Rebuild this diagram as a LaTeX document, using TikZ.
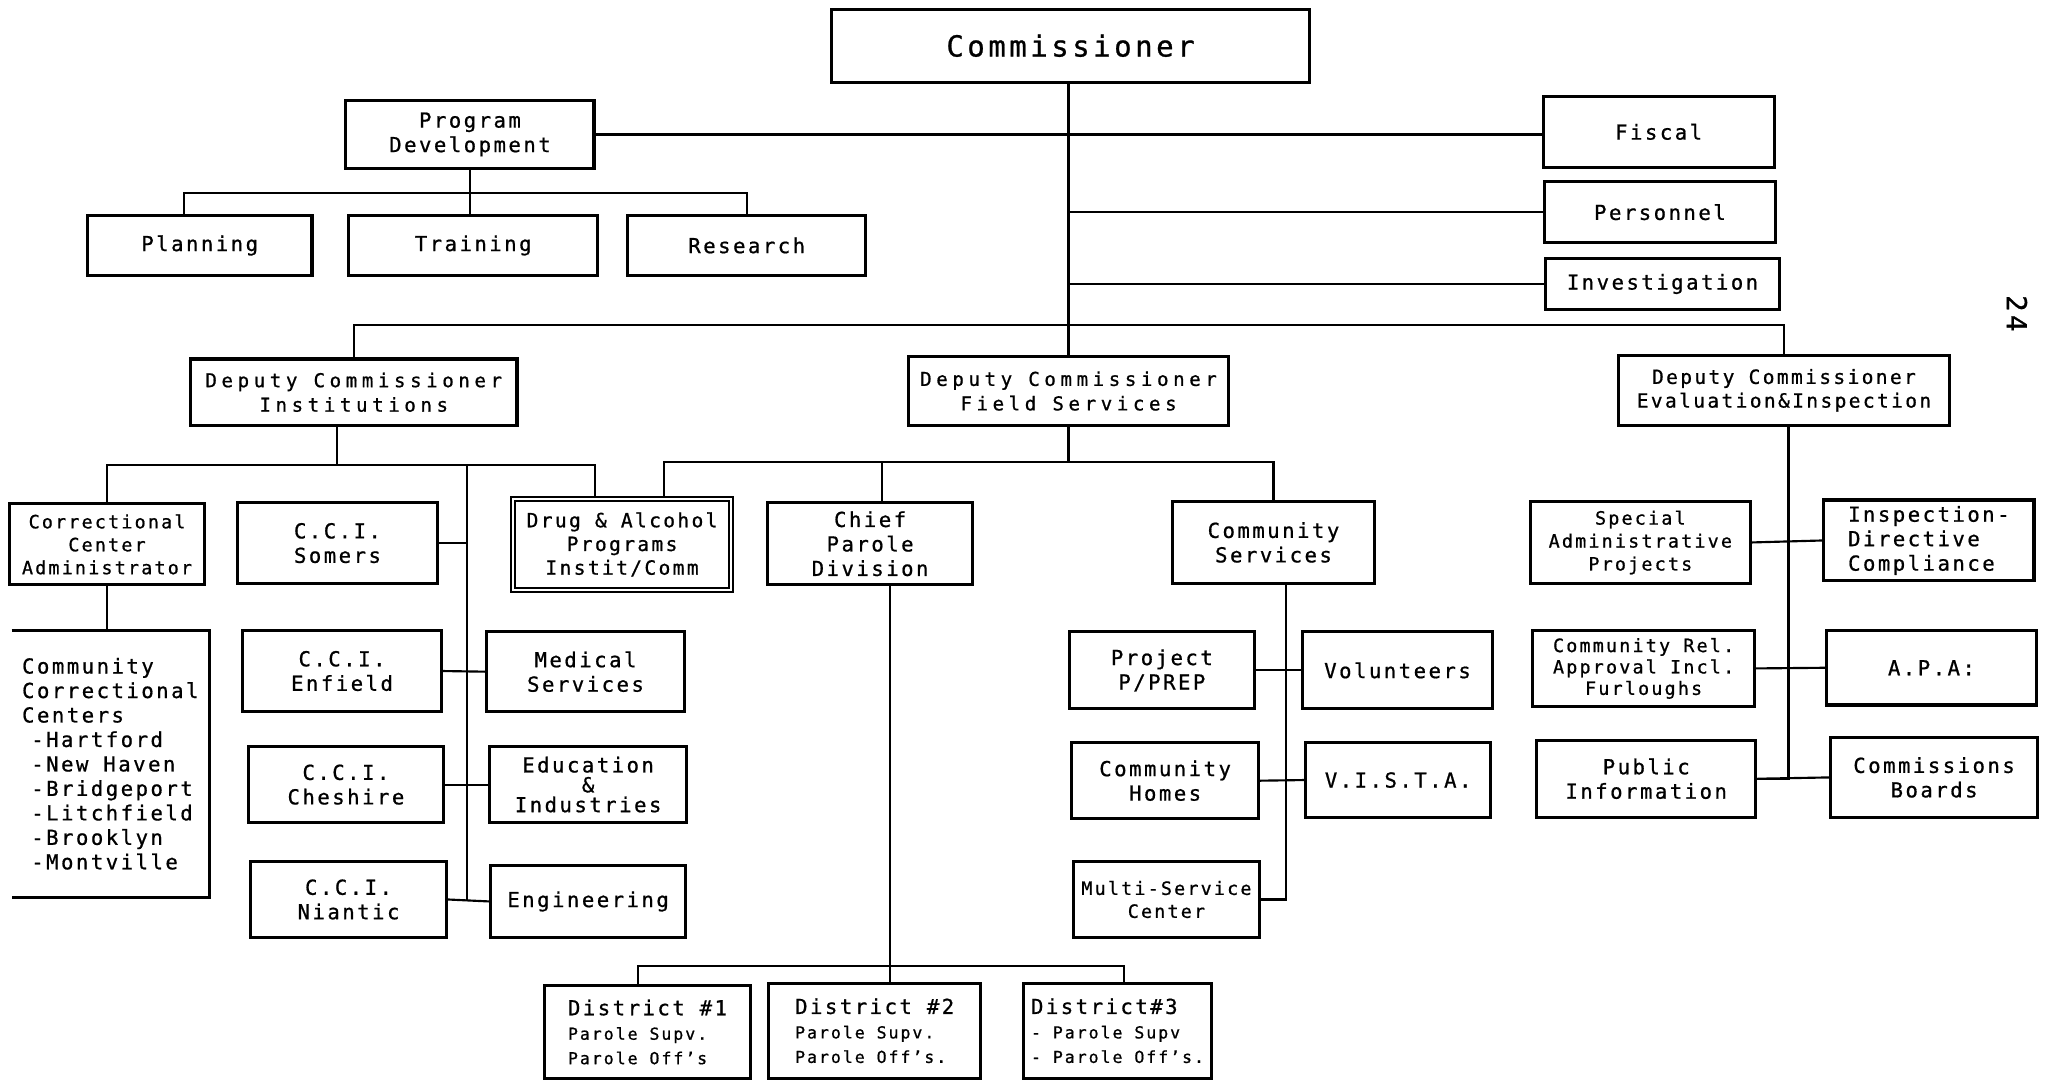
\documentclass[tikz,border=0pt]{standalone}
\usepackage{fontspec}
\setmainfont{DejaVu Sans Mono}[LetterSpace=12,FakeBold=0.8]
\newfontfamily\widefam{DejaVu Sans Mono}[LetterSpace=24,FakeBold=0.8]
\usetikzlibrary{calc}
\newcommand\orgfont{\fontsize{13.5}{16}\selectfont}
\newcommand\orgmid{\fontsize{12.8}{15.5}\selectfont}
\newcommand\orgsmall{\fontsize{12}{15}\selectfont}
\newcommand\orgbig{\fontsize{19}{22}\selectfont}
\newcommand\orgdist{\fontsize{10.8}{17}\selectfont}
\newcommand\orgwide{\widefam\fontsize{12.5}{16}\selectfont}
% \bx[options]{name}{x1}{y1}{x2}{y2}{text}
\newcommand\bx[7][]{\node[box,minimum width={(#5-#3)*0.03cm},minimum height={(#6-#4)*0.03cm},#1] (#2) at ({(#3+#5)/2},{(#4+#6)/2}) {#7};}
\begin{document}
\begin{tikzpicture}[x=0.03cm,y=-0.03cm,
  box/.style={draw, line width=2pt, inner sep=0pt, align=center, font=\orgfont},
  ln/.style={line width=1.4pt}]
\fill[white] (0,0) rectangle (1568,828);
\useasboundingbox (0,0) rectangle (1568,828);

% top level
\bx[font=\orgbig]{comm}{637}{7}{1003}{63}{Commissioner}
\bx{pd}{265}{77}{455}{129}{Program\\Development}
\bx{fiscal}{1182}{74}{1359}{128}{Fiscal}
\bx{pers}{1183}{139}{1360}{186}{Personnel}
\bx{inv}{1184}{198}{1363}{237}{Investigation}
\bx{plan}{67}{165}{239}{211}{Planning}
\bx{train}{267}{165}{458}{211}{Training}
\bx{res}{481}{165}{663}{211}{Research}

% deputies
\bx[font=\orgwide]{dinst}{146}{275}{396}{326}{Deputy Commissioner\\Institutions}
\bx[font=\orgwide]{dfs}{696}{273}{941}{326}{Deputy Commissioner\\Field Services}
\bx[font=\orgmid]{deval}{1240}{272}{1493}{326}{Deputy Commissioner\\Evaluation\&Inspection}

% institutions
\bx[font=\orgsmall]{cadm}{7}{386}{157}{448}{Correctional\\Center\\Administrator}
\bx[draw=none, align=left]{ccc}{10}{484}{159}{686}{Community\\Correctional\\Centers\\\hspace*{6pt}-Hartford\\\hspace*{6pt}-New Haven\\\hspace*{6pt}-Bridgeport\\\hspace*{6pt}-Litchfield\\\hspace*{6pt}-Brooklyn\\\hspace*{6pt}-Montville}
\draw[line width=2pt] (ccc.north west) -- (ccc.north east) -- (ccc.south east) -- (ccc.south west);
\bx{somers}{182}{385}{335}{447}{C.C.I.\\Somers}
\bx[line width=1.4pt, double distance=1.3pt, font=\orgmid]{drug}{393}{382}{560}{452}{Drug \& Alcohol\\Programs\\Instit/Comm}
\bx{enfield}{186}{483}{338}{545}{C.C.I.\\Enfield}
\bx{med}{373}{484}{524}{545}{Medical\\Services}
\bx{cheshire}{190}{572}{340}{630}{C.C.I.\\Cheshire}
\bx[font=\fontsize{13.5}{13}\selectfont]{edu}{375}{572}{526}{630}{Education\\\&\\Industries}
\bx{niantic}{192}{660}{342}{718}{C.C.I.\\Niantic}
\bx{eng}{376}{663}{525}{718}{Engineering}

% field services
\bx{chief}{588}{385}{745}{448}{Chief\\Parole\\Division}
\bx{csvc}{898}{384}{1053}{447}{Community\\Services}
\bx{proj}{819}{484}{961}{543}{Project\\P/PREP}
\bx{vol}{998}{484}{1143}{543}{Volunteers}
\bx{chomes}{821}{569}{964}{627}{Community\\Homes}
\bx{vista}{1000}{569}{1142}{626}{V.I.S.T.A.}
\bx[font=\orgsmall]{multi}{822}{660}{965}{718}{Multi-Service\\Center}
\bx[align=left]{d1}{417}{755}{575}{826}{District \#1\\{\orgdist Parole Supv.}\\{\orgdist Parole Off's}}
\bx[align=left]{d2}{589}{753}{751}{826}{District \#2\\{\orgdist Parole Supv.}\\{\orgdist Parole Off's.}}
\bx[align=left]{d3}{784}{753}{928}{826}{District\#3\\{\orgdist - Parole Supv}\\{\orgdist - Parole Off's.}}

% evaluation & inspection
\bx[font=\orgsmall]{sap}{1172}{384}{1341}{447}{Special\\Administrative\\Projects}
\bx[align=left]{idc}{1397}{383}{1558}{445}{Inspection-\\Directive\\Compliance}
\bx[font=\fontsize{12}{14}\selectfont]{crel}{1174}{483}{1344}{541}{Community Rel.\\Approval Incl.\\Furloughs}
\bx{apa}{1399}{483}{1560}{540}{A.P.A:}
\bx{pinfo}{1177}{567}{1345}{626}{Public\\Information}
\bx{cboards}{1402}{565}{1561}{626}{Commissions\\Boards}

\node[font=\fontsize{18}{18}\selectfont, rotate=-90, inner sep=0pt] (pgno) at (1545,240) {24};

% connectors
\draw[ln] (comm.south -| dfs.north) -- (dfs.north);
\draw[ln] (pd.east) -- (pd.east -| fiscal.west);
\draw[ln] (pers.west -| dfs.north) -- (pers.west);
\draw[ln] (inv.west -| dfs.north) -- (inv.west);
\coordinate (pdbar) at (360,148);
\draw[ln] (pd.south) -- (pd.south |- train.north);
\draw[ln] ($(plan.north)+(-12,0)$) |- (pdbar) -| (res.north);
\coordinate (topbar) at (818,249);
\draw[ln] (dinst.north) |- (topbar) -| (deval.north);

\coordinate (instbar) at (258,356);
\draw[ln] ($(dinst.south)+(-13,0)$) -- (instbar);
\draw[ln] (cadm.north) |- (instbar) -| ($(drug.north)+(-21,0)$);
\coordinate (ispine) at (358,356);
\coordinate (ispineb) at (358,690);
\draw[ln] (ispine) -- (ispineb);
\draw[ln] (somers.east) -- (somers.east -| ispine);
\draw[ln] (enfield.east) -- (med.west);
\draw[ln] (cheshire.east) -- (edu.west);
\draw[ln] (niantic.east) -- (eng.west);
\draw[ln] (cadm.south) -- (cadm.south |- ccc.north);

\coordinate (fsbar) at (818,354);
\draw[ln] (dfs.south) -- (dfs.south |- fsbar);
\draw[ln] ($(drug.north)+(32,0)$) |- (fsbar) -| (csvc.north);
\draw[ln] ($(chief.north)+(9,0)$) -- +(0,-31);
\coordinate (dbar) at (682,740);
\draw[ln] (chief.south -| dbar) -- (d2.north -| dbar);
\draw[ln] ($(d1.north)+(-7,0)$) |- (dbar) -| ($(d3.north)+(5,0)$);
\coordinate (cstop) at (985,447);
\draw[ln] (cstop) |- (multi.east);
\draw[ln] (proj.east) -- (vol.west);
\draw[ln] (chomes.east) -- (vista.west);

\coordinate (evtop) at (1370,326);
\draw[ln] (evtop) |- (pinfo.east);
\draw[ln] (pinfo.east) -- (cboards.west);
\draw[ln] (sap.east) -- (idc.west);
\draw[ln] (crel.east) -- (apa.west);
\end{tikzpicture}
\end{document}
